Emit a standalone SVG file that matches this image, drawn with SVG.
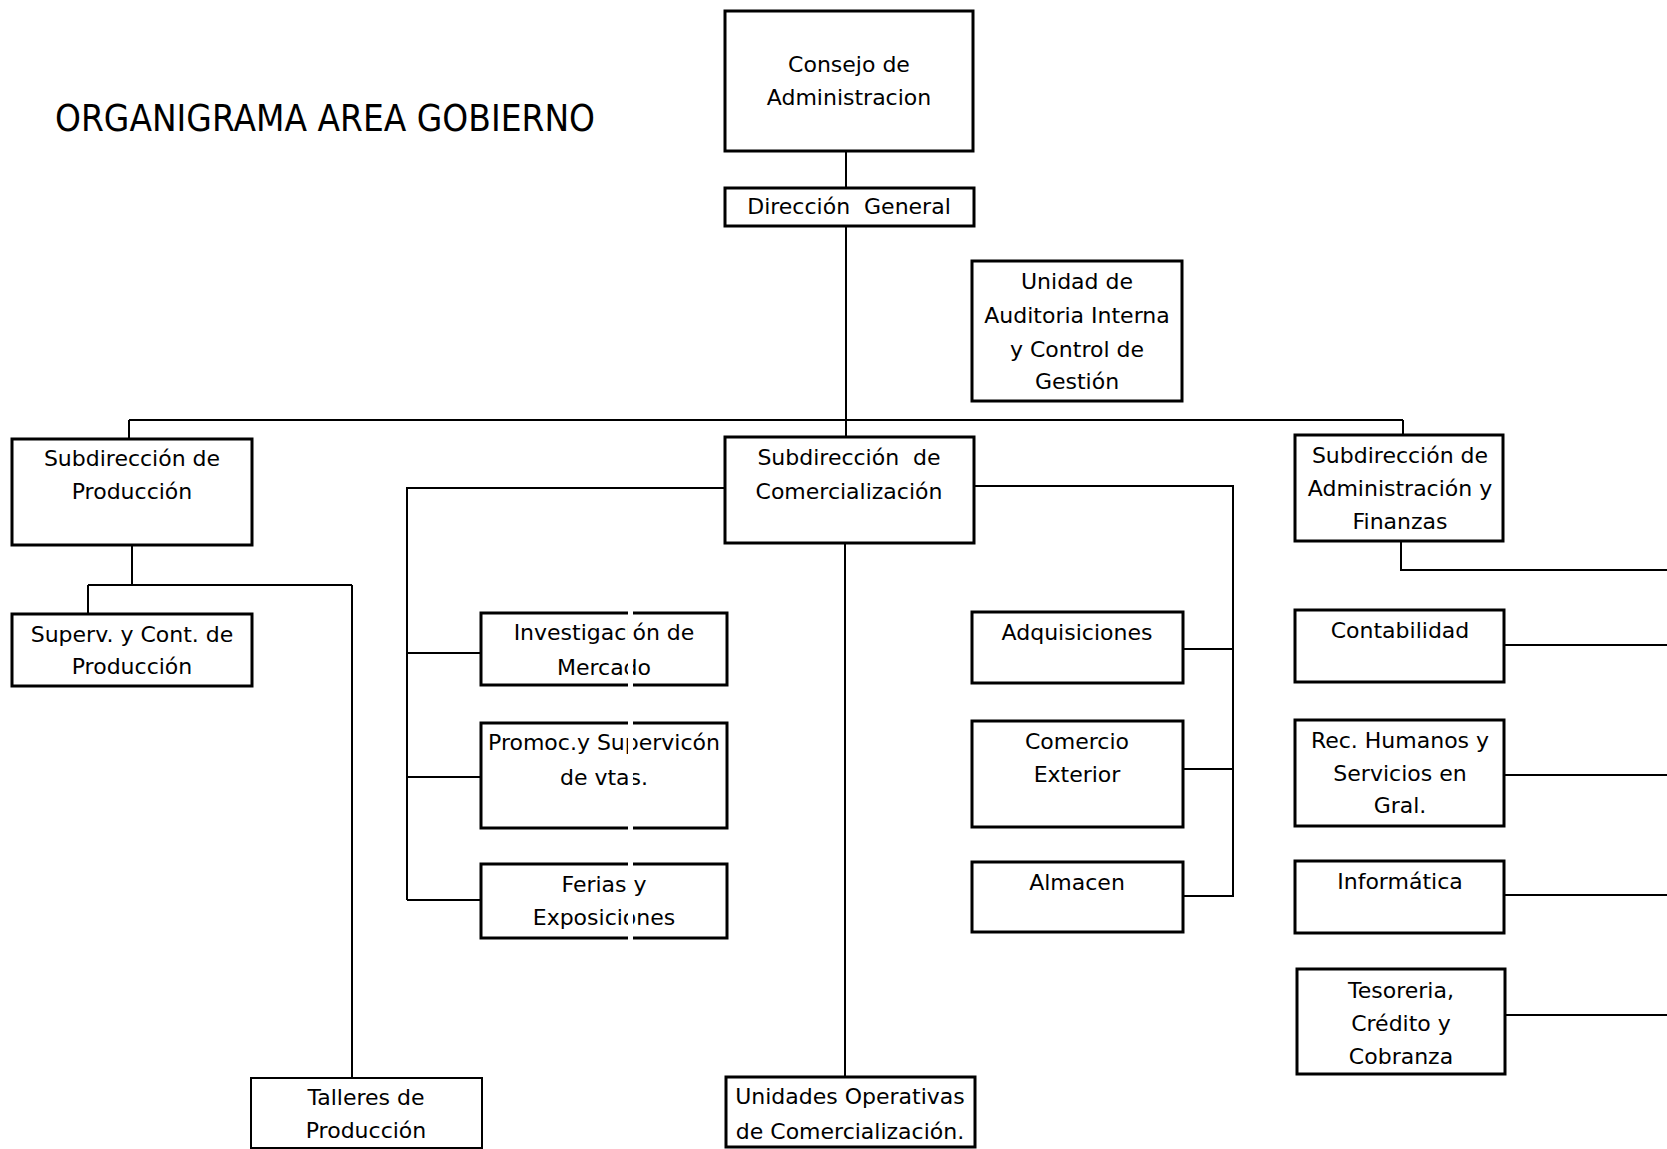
<svg xmlns="http://www.w3.org/2000/svg" width="1667" height="1149" viewBox="0 0 1667 1149">
<style>
.box{fill:#fff;stroke:#000;stroke-width:3}
.t{font-family:"DejaVu Sans","Liberation Sans",sans-serif;font-size:22px;fill:#000;text-anchor:middle}
.title{font-family:"DejaVu Sans","Liberation Sans",sans-serif;font-size:37px;fill:#000}
.c{fill:none;stroke:#000;stroke-width:2}
</style>
<rect width="1667" height="1149" fill="#fff"/>
<text class="title" x="55" y="131" textLength="540" lengthAdjust="spacingAndGlyphs">ORGANIGRAMA AREA GOBIERNO</text>
<g id="connectors">
<path class="c" d="M846 151V188M846 226V437M129 420H1403M129 420V439M1403 420V435"/>
<path class="c" d="M132 545V585M88 585H352M88 585V614M352 585V1078"/>
<path class="c" d="M725 488H407V900M407 653H481M407 777H481M407 900H481"/>
<path class="c" d="M974 486H1233V897M1183 649H1233M1183 769H1233M1183 896H1233"/>
<path class="c" d="M845 543V1077"/>
<path class="c" d="M1401 541V570H1667M1504 645H1667M1504 775H1667M1504 895H1667M1505 1015H1667"/>
</g>
<g id="consejo"><rect class="box" x="725" y="11" width="248" height="140"/><text class="t" x="849" y="72">Consejo de</text><text class="t" x="849" y="105">Administracion</text></g>
<g id="direccion"><rect class="box" x="725" y="188" width="249" height="38"/><text class="t" x="849" y="214" xml:space="preserve">Dirección  General</text></g>
<g id="auditoria"><rect class="box" x="972" y="261" width="210" height="140"/><text class="t" x="1077" y="289">Unidad de</text><text class="t" x="1077" y="323">Auditoria Interna</text><text class="t" x="1077" y="357">y Control de</text><text class="t" x="1077" y="389">Gestión</text></g>
<g id="sub_prod"><rect class="box" x="12" y="439" width="240" height="106"/><text class="t" x="132" y="466">Subdirección de</text><text class="t" x="132" y="499">Producción</text></g>
<g id="sub_com"><rect class="box" x="725" y="437" width="249" height="106"/><text class="t" x="849" y="465" xml:space="preserve">Subdirección  de</text><text class="t" x="849" y="499">Comercialización</text></g>
<g id="sub_adm"><rect class="box" x="1295" y="435" width="208" height="106"/><text class="t" x="1400" y="463">Subdirección de</text><text class="t" x="1400" y="496">Administración y</text><text class="t" x="1400" y="529">Finanzas</text></g>
<g id="superv"><rect class="box" x="12" y="614" width="240" height="72"/><text class="t" x="132" y="642">Superv. y Cont. de</text><text class="t" x="132" y="674">Producción</text></g>
<g id="talleres"><rect class="box" x="251" y="1078" width="231" height="70" style="stroke-width:2"/><text class="t" x="366" y="1105">Talleres de</text><text class="t" x="366" y="1138">Producción</text></g>
<g id="unidades"><rect class="box" x="726" y="1077" width="249" height="70"/><text class="t" x="850" y="1104">Unidades Operativas</text><text class="t" x="850" y="1139">de Comercialización.</text></g>
<g id="investigacion"><rect class="box" x="481" y="613" width="246" height="72"/><text class="t" x="604" y="640">Investigación de</text><text class="t" x="604" y="675">Mercado</text></g>
<g id="promoc"><rect class="box" x="481" y="723" width="246" height="105"/><text class="t" x="604" y="750">Promoc.y Supervicón</text><text class="t" x="604" y="785">de vtas.</text></g>
<g id="ferias"><rect class="box" x="481" y="864" width="246" height="74"/><text class="t" x="604" y="892">Ferias y</text><text class="t" x="604" y="925">Exposiciones</text></g>
<rect x="628" y="605" width="5" height="340" fill="#fff"/>
<g id="adquisiciones"><rect class="box" x="972" y="612" width="211" height="71"/><text class="t" x="1077" y="640">Adquisiciones</text></g>
<g id="comercio"><rect class="box" x="972" y="721" width="211" height="106"/><text class="t" x="1077" y="749">Comercio</text><text class="t" x="1077" y="782">Exterior</text></g>
<g id="almacen"><rect class="box" x="972" y="862" width="211" height="70"/><text class="t" x="1077" y="890">Almacen</text></g>
<g id="contabilidad"><rect class="box" x="1295" y="610" width="209" height="72"/><text class="t" x="1400" y="638">Contabilidad</text></g>
<g id="rrhh"><rect class="box" x="1295" y="720" width="209" height="106"/><text class="t" x="1400" y="748">Rec. Humanos y</text><text class="t" x="1400" y="781">Servicios en</text><text class="t" x="1400" y="813">Gral.</text></g>
<g id="informatica"><rect class="box" x="1295" y="861" width="209" height="72"/><text class="t" x="1400" y="889">Informática</text></g>
<g id="tesoreria"><rect class="box" x="1297" y="969" width="208" height="105"/><text class="t" x="1401" y="998">Tesoreria,</text><text class="t" x="1401" y="1031">Crédito y</text><text class="t" x="1401" y="1064">Cobranza</text></g>
</svg>
